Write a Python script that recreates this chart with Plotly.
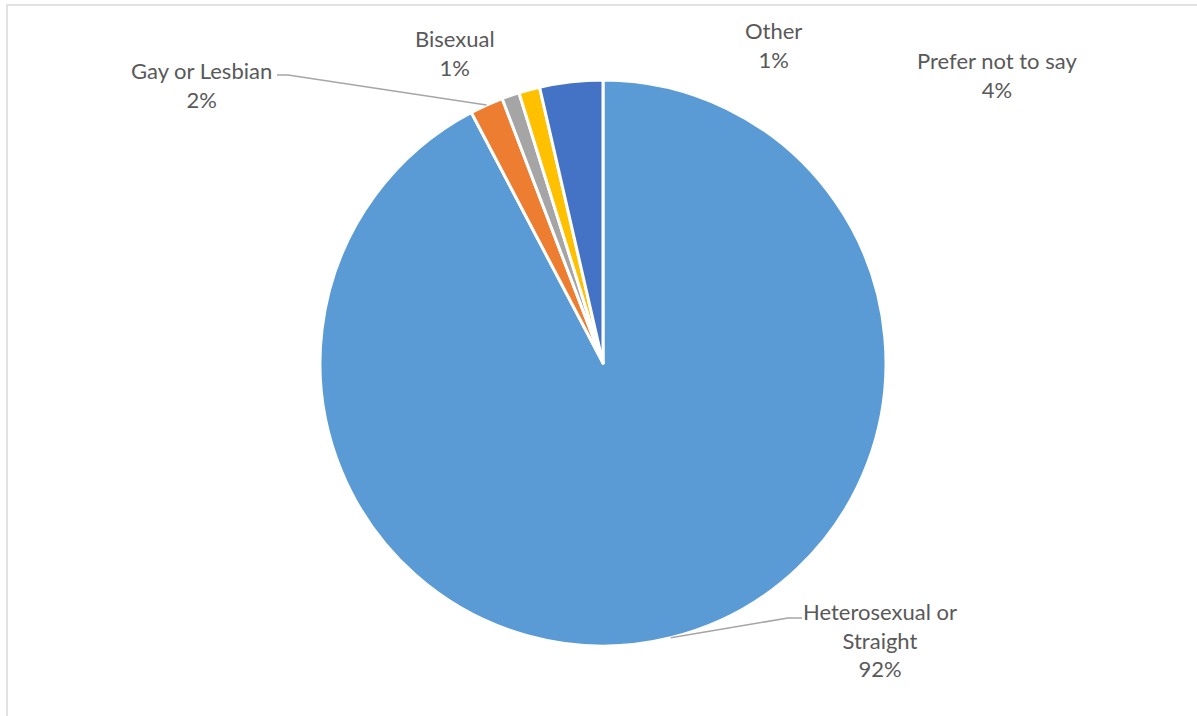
import math
import plotly.graph_objects as go

# ---- data ----
categories = ["Heterosexual or Straight", "Gay or Lesbian", "Bisexual", "Other", "Prefer not to say"]
values = [92.3, 1.9, 1.0, 1.2, 3.6]
label_text = ["Heterosexual or<br>Straight<br>92%", "Gay or Lesbian<br>2%", "Bisexual<br>1%", "Other<br>1%", "Prefer not to say<br>4%"]
colors = ["#5B9BD5", "#ED7D31", "#A5A5A5", "#FFC000", "#4472C4"]

# ---- layout (pixels) ----
W, H = 1197, 716
CX, CY, R = 603, 363, 283

def px(x):
    return x / W

def py(y):
    return 1 - y / H

# label centre positions (pixels) and leader line start/knee
label_pos = {
    "Heterosexual or Straight": (880, 640),
    "Gay or Lesbian": (201, 85),
    "Bisexual": (455, 53),
    "Other": (773, 45),
    "Prefer not to say": (997, 75),
}
leader = {
    "Heterosexual or Straight": (802, 618, 788),
    "Gay or Lesbian": (277, 75, 288),
}

fig = go.Figure()
fig.add_trace(go.Pie(
    labels=categories,
    values=values,
    sort=False,
    direction="clockwise",
    rotation=0,
    textinfo="none",
    hoverinfo="label+percent",
    marker=dict(colors=colors, line=dict(color="white", width=3)),
    domain=dict(x=[px(CX - R), px(CX + R)], y=[py(CY + R), py(CY - R)]),
    showlegend=False,
))

shapes = []
annotations = []
total = sum(values)
cum = 0.0
for cat, v, txt in zip(categories, values, label_text):
    mid = (cum + v / 2) / total * 2 * math.pi
    cum += v
    ex = CX + R * math.sin(mid)
    ey = CY - R * math.cos(mid)
    lx, ly = label_pos[cat]
    annotations.append(dict(
        x=px(lx), y=py(ly), xref="paper", yref="paper",
        text=txt, showarrow=False, align="center",
        xanchor="center", yanchor="middle",
        font=dict(family="Lato", size=22, color="#595959"),
    ))
    if cat in leader:
        sx, sy, kx = leader[cat]
        shapes.append(dict(type="path", xref="paper", yref="paper",
                           path=f"M {px(sx)},{py(sy)} L {px(kx)},{py(sy)} L {px(ex)},{py(ey)}",
                           line=dict(color="#A6A6A6", width=1.5)))

# chart area frame
shapes.append(dict(type="rect", xref="paper", yref="paper",
                   x0=px(7), y0=py(5), x1=px(1205), y1=py(725),
                   line=dict(color="#D9D9D9", width=1.5), fillcolor="rgba(0,0,0,0)", layer="below"))

fig.update_layout(
    width=W, height=H,
    margin=dict(l=0, r=0, t=0, b=0),
    paper_bgcolor="white",
    plot_bgcolor="white",
    shapes=shapes,
    annotations=annotations,
)

fig.write_html("out.html", config={"displayModeBar": False},
               post_script="document.body.style.margin='0';")
